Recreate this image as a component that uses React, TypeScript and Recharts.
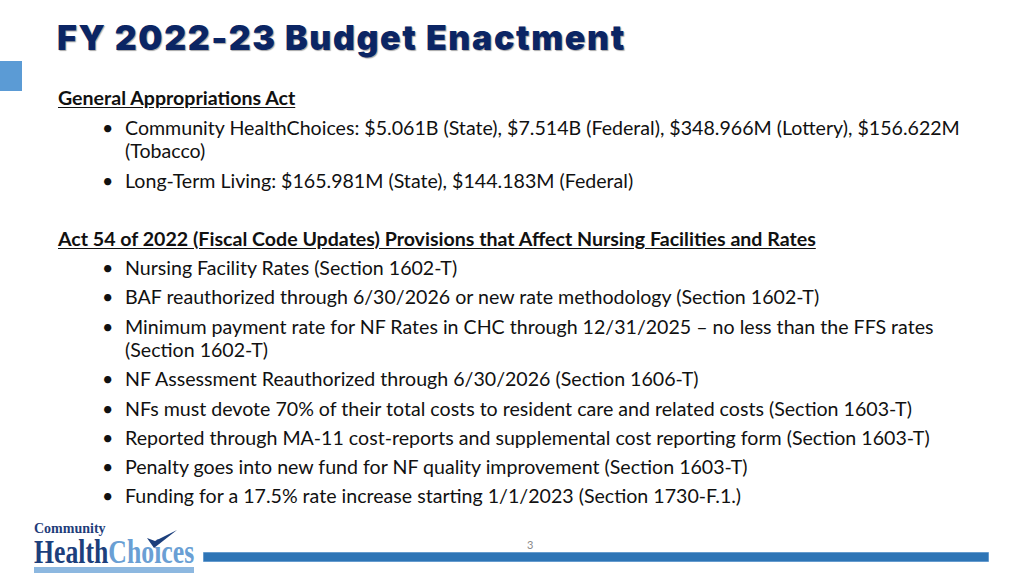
import { Bar, BarChart, XAxis, YAxis } from "recharts";

const title = "FY 2022-23 Budget Enactment";
const heading1 = "General Appropriations Act";
const heading2 = "Act 54 of 2022 (Fiscal Code Updates) Provisions that Affect Nursing Facilities and Rates";

// each bullet: lines of text, y of its first line centre
const bullets1 = [
  { lines: ["Community HealthChoices: $5.061B (State), $7.514B (Federal), $348.966M (Lottery), $156.622M", "(Tobacco)"], y: 128 },
  { lines: ["Long-Term Living: $165.981M (State), $144.183M (Federal)"], y: 181 },
];
const bullets2 = [
  { lines: ["Nursing Facility Rates (Section 1602-T)"], y: 268 },
  { lines: ["BAF reauthorized through 6/30/2026 or new rate methodology (Section 1602-T)"], y: 297 },
  { lines: ["Minimum payment rate for NF Rates in CHC through 12/31/2025 \u2013 no less than the FFS rates", "(Section 1602-T)"], y: 327 },
  { lines: ["NF Assessment Reauthorized through 6/30/2026 (Section 1606-T)"], y: 379 },
  { lines: ["NFs must devote 70% of their total costs to resident care and related costs (Section 1603-T)"], y: 409 },
  { lines: ["Reported through MA-11 cost-reports and supplemental cost reporting form (Section 1603-T)"], y: 438 },
  { lines: ["Penalty goes into new fund for NF quality improvement (Section 1603-T)"], y: 467 },
  { lines: ["Funding for a 17.5% rate increase starting 1/1/2023 (Section 1730-F.1.)"], y: 496 },
];
const footerBar = [{ name: "bar", value: 1 }];
const pageNumber = "3";

const bodyFont = "Lato, 'Open Sans', sans-serif";
const fontSize = 19.6;
const lineH = 24;

const Line = ({ y, x, text, bold, underline }: { y: number; x: number; text: string; bold?: boolean; underline?: boolean }) => (
  <div
    style={{
      position: "absolute",
      left: x,
      top: y - lineH / 2,
      height: lineH,
      lineHeight: `${lineH}px`,
      fontSize,
      fontFamily: bodyFont,
      fontWeight: bold ? 700 : 400,
      textDecoration: underline ? "underline" : "none",
      textUnderlineOffset: 2,
      color: "#111",
      whiteSpace: "nowrap",
    }}
  >
    {text}
  </div>
);

const BulletList = ({ items }: { items: { lines: string[]; y: number }[] }) => (
  <>
    {items.map((b) => (
      <div key={b.lines[0]}>
        <Line x={102} y={b.y} text={"\u2022"} />
        {b.lines.map((l, i) => (
          <Line key={l} x={125} y={b.y + i * 22.5} text={l} />
        ))}
      </div>
    ))}
  </>
);

const App = () => {
  return (
    <div style={{ position: "absolute", left: 0, top: 0, width: 1024, height: 576, background: "#fff", overflow: "hidden" }}>
      <div
        style={{
          position: "absolute",
          left: 57,
          top: 18,
          fontFamily: "Inter, Roboto, sans-serif",
          fontWeight: 900,
          fontSize: 34,
          letterSpacing: 1.6,
          lineHeight: "40px",
          color: "#0b2564",
          textShadow: "1px 1px 1px rgba(0,0,0,0.35)",
          whiteSpace: "nowrap",
        }}
      >
        {title}
      </div>
      <div style={{ position: "absolute", left: 0, top: 61, width: 22, height: 30, background: "#5b9bd5" }} />

      <Line x={58} y={98} text={heading1} bold underline />
      <BulletList items={bullets1} />
      <Line x={58} y={239} text={heading2} bold underline />
      <BulletList items={bullets2} />

      {/* logo */}
      <div style={{ position: "absolute", left: 34, top: 523, fontFamily: "'Liberation Serif', serif", fontWeight: 700, fontSize: 14, color: "#1f3d7a", lineHeight: "12px", whiteSpace: "nowrap" }}>
        Community
      </div>
      <div
        style={{
          position: "absolute",
          left: 34,
          top: 539,
          fontFamily: "'Liberation Serif', serif",
          fontWeight: 700,
          fontSize: 33,
          lineHeight: "26px",
          whiteSpace: "nowrap",
          transform: "scaleX(0.78)",
          transformOrigin: "left top",
        }}
      >
        <span style={{ color: "#1c3f7c" }}>Health</span>
        <span style={{ color: "#6a9fd4" }}>Choices</span>
      </div>
      <svg style={{ position: "absolute", left: 146, top: 529 }} width={32} height={20}>
        <path d="M1 9 L8 19 L31 1 L9 12 Z" fill="#1c3f7c" />
      </svg>
      <div style={{ position: "absolute", left: 34, top: 567, width: 160, height: 6, background: "#8db8e0" }} />

      <div style={{ position: "absolute", left: 527, top: 538, fontFamily: bodyFont, fontSize: 11, color: "#8a8a8a" }}>{pageNumber}</div>

      <div style={{ position: "absolute", left: 203, top: 552 }}>
        <BarChart width={786} height={10} data={footerBar} layout="vertical" margin={{ top: 0, right: 0, bottom: 0, left: 0 }} barCategoryGap={0}>
          <XAxis type="number" domain={[0, 1]} hide />
          <YAxis type="category" dataKey="name" hide />
          <Bar dataKey="value" fill="#2e75b6" stroke="#9dc3e6" strokeWidth={1} isAnimationActive={false} />
        </BarChart>
      </div>
    </div>
  );
};

export default App;
